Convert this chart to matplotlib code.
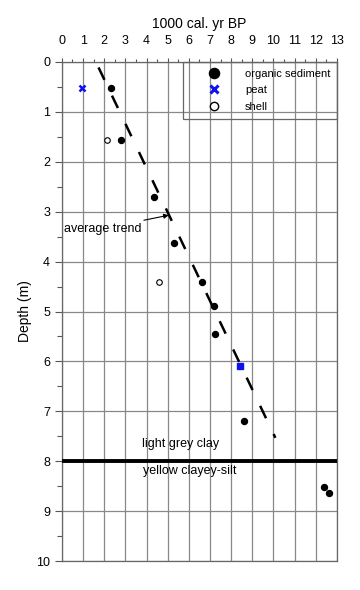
import matplotlib
matplotlib.use("Agg")
import matplotlib.pyplot as plt
from matplotlib.ticker import MultipleLocator
from matplotlib.lines import Line2D

plt.rcParams['font.family'] = ['Liberation Sans', 'DejaVu Sans']

# Data
org_age = [2.3, 2.8, 4.35, 5.3, 6.6, 7.17, 7.25, 8.6, 12.37, 12.62]
org_depth = [0.52, 1.56, 2.7, 3.62, 4.41, 4.88, 5.45, 7.19, 8.51, 8.63]
peat_age = [0.95, 8.4]
peat_depth = [0.52, 6.1]
shell_age = [2.13, 4.57]
shell_depth = [1.56, 4.41]
trend_age = [1.73, 10.09]
trend_depth = [0.11, 7.53]
boundary_depth = 8.0
x_ticks = list(range(0, 14))
y_ticks = list(range(0, 11))

fig = plt.figure(figsize=(3.6, 5.9), dpi=100)
ax = fig.add_axes([0.172, 0.049, 0.764, 0.846])
ax.set_xlim(0, 13)
ax.set_ylim(10, 0)

ax.set_xticks(x_ticks)
ax.set_yticks(y_ticks)
ax.xaxis.set_minor_locator(MultipleLocator(0.5))
ax.yaxis.set_minor_locator(MultipleLocator(0.5))
ax.xaxis.tick_top()
ax.xaxis.set_label_position('top')
ax.tick_params(axis='x', which='major', direction='out', length=3, width=0.8,
               color='#555555', labelsize=9, pad=8)
ax.tick_params(axis='x', which='minor', direction='out', length=2, width=0.8, color='#555555')
ax.tick_params(axis='y', which='major', direction='out', length=5, width=0.8,
               color='#555555', labelsize=9, pad=3.5)
ax.tick_params(axis='y', which='minor', direction='out', length=3.5, width=0.8, color='#555555')

for s in ['top', 'left', 'right', 'bottom']:
    ax.spines[s].set_color('#666666')
    ax.spines[s].set_linewidth(0.9)

ax.grid(True, which='major', color='#888888', linewidth=0.9)
ax.set_axisbelow(True)

ax.set_xlabel('1000 cal. yr BP', fontsize=10, labelpad=5)
ax.set_ylabel('Depth (m)', fontsize=10, labelpad=3)

# boundary
ax.axhline(boundary_depth, color='black', linewidth=2.8, zorder=3)

# trend
ax.plot(trend_age, trend_depth, color='black', linewidth=1.8,
        dashes=(5.5, 7), zorder=3)

# points
ax.plot(org_age, org_depth, 'o', color='black', markersize=4.3, zorder=4)
ax.plot(peat_age[:1], peat_depth[:1], 'x', color='#1010ee', markersize=4.5,
        markeredgewidth=1.8, zorder=4)
ax.plot(peat_age[1:], peat_depth[1:], 's', color='#1010ee', markersize=4.0, zorder=4)
ax.plot(shell_age, shell_depth, 'o', markerfacecolor='white',
        markeredgecolor='black', markersize=4.0, markeredgewidth=0.8, zorder=4)

# texts
ax.text(5.63, 7.65, 'light grey clay', fontsize=9, ha='center', va='center')
ax.text(6.05, 8.2, 'yellow clayey-silt', fontsize=9, ha='center', va='center')
ax.annotate('average trend', xy=(5.05, 3.07), xytext=(0.08, 3.34),
            fontsize=9, ha='left', va='center',
            arrowprops=dict(arrowstyle='-|>', color='black', lw=0.8,
                            mutation_scale=7, shrinkA=0, shrinkB=0))

handles = [
    Line2D([], [], marker='o', linestyle='none', color='black', markersize=7.3),
    Line2D([], [], marker='x', linestyle='none', color='#1010ee', markersize=5.5,
           markeredgewidth=2.2),
    Line2D([], [], marker='o', linestyle='none', markerfacecolor='white',
           markeredgecolor='black', markersize=6.0, markeredgewidth=1.0),
]
leg = ax.legend(handles, ['organic sediment', 'peat', 'shell'],
                loc='upper right', bbox_to_anchor=(1.0, 1.0), borderaxespad=0,
                fontsize=8, frameon=True, fancybox=False,
                facecolor='none', edgecolor='#666666',
                handlelength=4.4, handletextpad=0.6,
                labelspacing=0.6, borderpad=0.6)
leg.get_frame().set_linewidth(0.9)
leg.get_frame().set_alpha(None)
leg.get_frame().set_facecolor((1, 1, 1, 0))

fig.savefig('out.png', dpi=100)
